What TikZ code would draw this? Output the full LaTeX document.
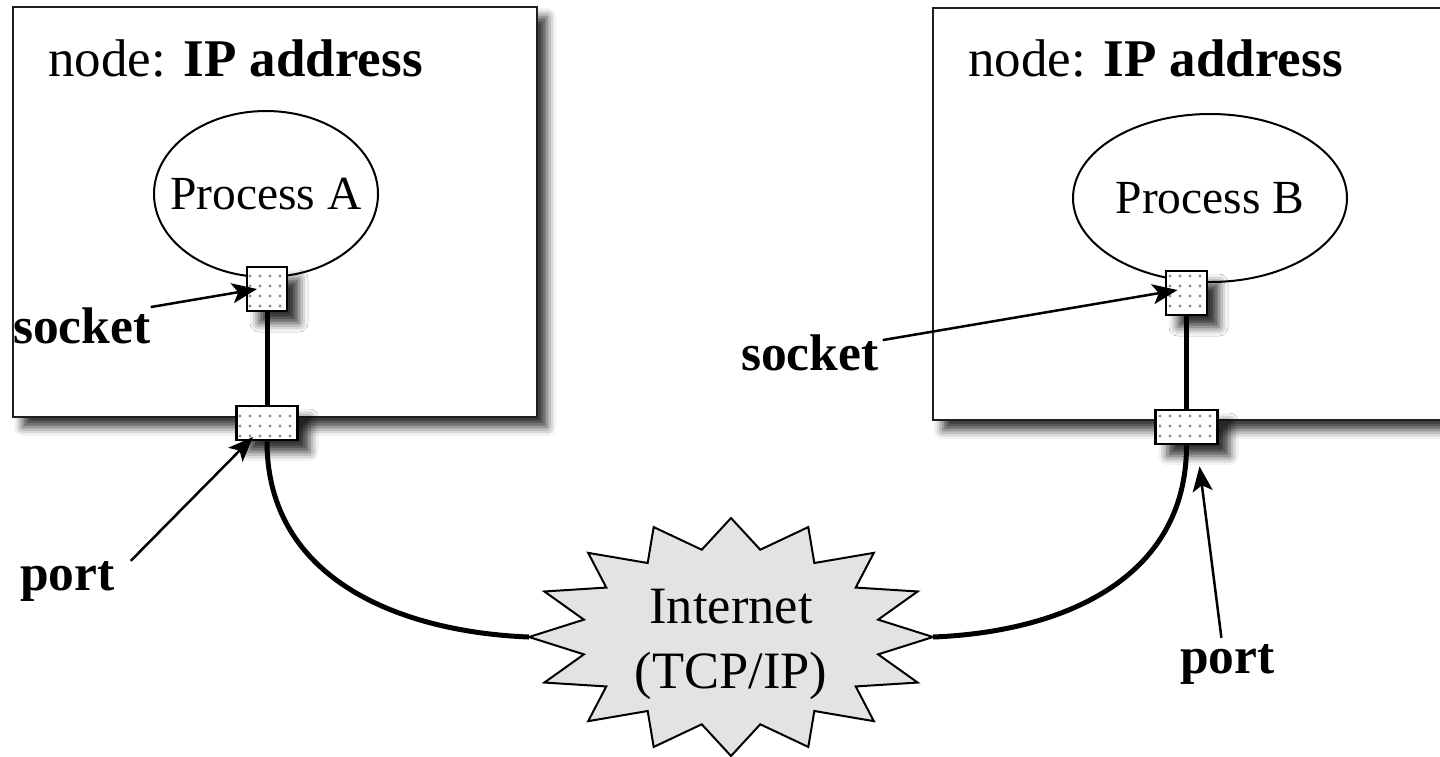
\documentclass[tikz,border=0pt]{standalone}
\usepackage{fontspec}
\setmainfont{Liberation Serif}
\usetikzlibrary{shapes.geometric,shadows.blur,patterns.meta,arrows.meta}
\begin{document}
\begin{tikzpicture}[x=1pt,y=-1pt,
  hostbox/.style={rectangle, draw=black!88, line width=2.5pt, fill=white, inner sep=0pt,
    blur shadow={shadow xshift=10pt, shadow yshift=-10pt, shadow blur radius=9pt, shadow opacity=80}},
  proc/.style={ellipse, draw, line width=2pt, fill=white, inner sep=0pt},
  proctext/.style={font=\fontsize{47.5}{56}\selectfont},
  dotbox/.style={rectangle, draw, line width=2.8pt, inner sep=0pt,
    blur shadow={shadow xshift=12pt, shadow yshift=-12pt, shadow blur radius=9pt, shadow opacity=80},
    preaction={fill=white}, pattern={Dots[distance=10pt, radius=1.6pt]}, pattern color=black!45},
  wire/.style={line width=5pt},
  ptr/.style={line width=2.5pt, -{Stealth[length=25pt, width=20pt, inset=6pt]}},
  title/.style={anchor=base west, inner sep=0pt, font=\fontsize{53}{62}\selectfont},
  lbl/.style={anchor=base west, inner sep=0pt, font=\fontsize{51.5}{60}\selectfont\bfseries},
  netstar/.style={draw, line width=2pt, fill=black!11, line join=miter},
]
\path[use as bounding box] (0,0) rectangle (1440,756);
\clip (0,0) rectangle (1440,756);

% host boxes
\node[hostbox, minimum width=524, minimum height=410] (hostA) at (275,212) {};
\node[hostbox, minimum width=524, minimum height=412] (hostB) at (1195,214) {};

\node[title] (titleA) at (48,76) {node: \textbf{IP address}};
\node[title] (titleB) at (968,76) {node: \textbf{IP address}};

% processes
\node[proc, minimum width=224, minimum height=166] (procA) at (266,194) {};
\node[proctext] (procAtxt) at (procA.center) {Process A};
\node[proc, minimum width=274, minimum height=168] (procB) at (1210,198) {};
\node[proctext] (procBtxt) at (procB.center) {Process B};

% sockets and ports
\node[dotbox, minimum width=40, minimum height=44] (sockA) at (267,289) {};
\node[dotbox, minimum width=61, minimum height=34] (portA) at (267,423) {};
\node[dotbox, minimum width=41, minimum height=44] (sockB) at (1186.5,293) {};
\node[dotbox, minimum width=62, minimum height=34] (portB) at (1186.5,427) {};

\draw[wire] (sockA.south) -- (portA.north);
\draw[wire] (sockB.south) -- (portB.north);

% internet
\begin{scope}[shift={(731,637)}]
\draw[netstar] ({202*cos(90)},{119*sin(90)})
  \foreach \k in {0,...,15} {
    -- ({150*cos(101.25+22.5*\k)},{89*sin(101.25+22.5*\k)})
    -- ({202*cos(112.5+22.5*\k)},{119*sin(112.5+22.5*\k)})
  } -- cycle;
\end{scope}
\coordinate (inetL) at (529,637);
\coordinate (inetR) at (933,637);
\node[font=\fontsize{52.5}{65}\selectfont, align=center] (inet) at (731,644) {Internet\\(TCP/IP)};

\draw[wire] (portA.south) .. controls (267,580) and (401,632) .. (inetL);
\draw[wire] (portB.south) .. controls (1186.5,580) and (1061,632) .. (inetR);

% labels
\node[lbl] (sockAlbl) at (13,343) {socket};
\node[lbl] (portAlbl) at (20,590) {port};
\node[lbl] (sockBlbl) at (741,370) {socket};
\node[lbl] (portBlbl) at (1180,673) {port};

\draw[ptr] (sockAlbl.north east) -- ([xshift=-10pt]sockA.center);
\draw[ptr] ([xshift=16pt]portAlbl.north east) -- ([xshift=-14pt,yshift=-14pt]portA.center);
\draw[ptr] ([xshift=4pt,yshift=-6pt]sockBlbl.north east) -- ([xshift=-9pt,yshift=3pt]sockB.center);
\draw[ptr] ([xshift=-6pt,yshift=6pt]portBlbl.north) -- ([xshift=13pt,yshift=-21pt]portB.south);
\end{tikzpicture}
\end{document}
